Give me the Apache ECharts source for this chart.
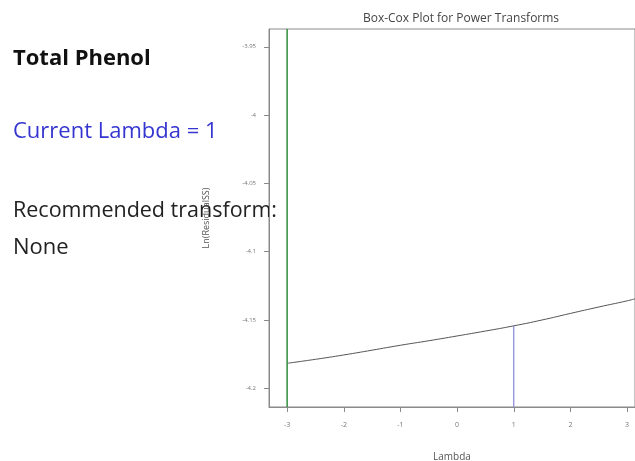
<!DOCTYPE html>
<html><head><meta charset="utf-8">
<script src="https://cdn.jsdelivr.net/npm/echarts@6/dist/echarts.min.js"></script>
<style>html,body{margin:0;padding:0;background:#fff}#c{width:635px;height:461px}</style>
</head><body><div id="c"></div>
<script>
const lambdaValues = [-3, -2.5, -2, -1.5, -1, -0.5, 0, 0.5, 1, 1.5, 2, 2.5, 3, 3.14];
const lnResidualSS = [-4.1817, -4.1788, -4.1756, -4.1721, -4.1685, -4.1652, -4.1617, -4.1581, -4.1543, -4.1500, -4.1452, -4.1405, -4.1360, -4.1345];
const xTicks = [-3, -2, -1, 0, 1, 2, 3];
const yTicks = [-3.95, -4, -4.05, -4.1, -4.15, -4.2];
const bestLambda = -3;
const currentLambda = 1;
const currentValue = -4.1543;
const xMin = -3.32, xMax = 3.14, yMin = -4.2137, yMax = -3.937;

const chart = echarts.init(document.getElementById('c'), null, {renderer: 'canvas'});
const axisGray = '#8a8a8a';
chart.setOption({
  animation: false,
  title: {text: 'Box-Cox Plot for Power Transforms', left: 456, textAlign: 'center', top: 8,
    textStyle: {fontFamily: 'Open Sans', fontSize: 12, fontWeight: 'normal', color: '#444'}},
  grid: {left: 269, top: 29, right: 0, bottom: 54, outerBoundsMode: 'none', containLabel: false,
    show: true, borderColor: axisGray, borderWidth: 1},
  xAxis: {type: 'value', min: xMin, max: xMax, name: 'Lambda', nameLocation: 'middle', nameGap: 45,
    nameTextStyle: {fontFamily: 'Open Sans', fontSize: 10, color: '#555'},
    axisLine: {show: true, onZero: false, lineStyle: {color: axisGray}},
    axisTick: {show: true, length: 5, customValues: xTicks, lineStyle: {color: axisGray}},
    axisLabel: {customValues: xTicks, fontSize: 7, color: '#777', margin: 14, fontFamily: 'Open Sans'},
    splitLine: {show: false}},
  yAxis: {type: 'value', min: yMin, max: yMax, name: 'Ln(ResidualSS)', nameLocation: 'middle', nameGap: 58,
    nameTextStyle: {fontFamily: 'Open Sans', fontSize: 9, color: '#555'},
    axisLine: {show: true, onZero: false, lineStyle: {color: axisGray}},
    axisTick: {show: true, length: 5, customValues: yTicks, lineStyle: {color: axisGray}},
    axisLabel: {customValues: yTicks, fontSize: 6, color: '#777', margin: 13, fontFamily: 'Open Sans',
      formatter: v => String(+v.toFixed(2))},
    splitLine: {show: false}},
  series: [
    {type: 'line', data: lambdaValues.map((x, i) => [x, lnResidualSS[i]]), smooth: true, symbol: 'none',
      lineStyle: {color: '#555', width: 1}},
    {type: 'line', data: [[bestLambda, yMin], [bestLambda, yMax]], symbol: 'none',
      lineStyle: {color: '#2f8f3a', width: 1.5}},
    {type: 'line', data: [[currentLambda, yMin], [currentLambda, currentValue]], symbol: 'none',
      lineStyle: {color: '#8585dd', width: 1.2}}
  ],
  graphic: [
    {type: 'text', left: 13, top: 48, style: {text: 'Total Phenol', font: 'bold 22px "Open Sans"', fill: '#111'}},
    {type: 'text', left: 13, top: 121, style: {text: 'Current Lambda = 1', font: '22px "Open Sans"', fill: '#3535d0'}},
    {type: 'text', left: 13, top: 200, style: {text: 'Recommended transform:', font: '21.5px "Open Sans"', fill: '#222'}},
    {type: 'text', left: 13, top: 237, style: {text: 'None', font: '22px "Open Sans"', fill: '#222'}}
  ]
});
</script></body></html>
